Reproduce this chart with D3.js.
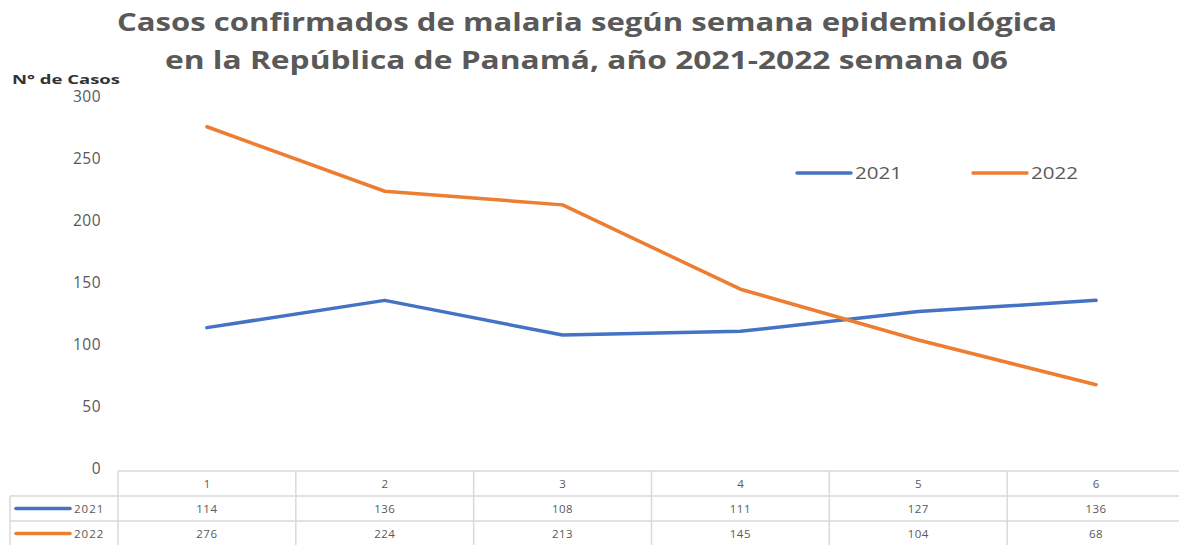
<!DOCTYPE html>
<html>
<head>
<meta charset="utf-8">
<script src="https://cdn.jsdelivr.net/npm/d3@7"></script>
<style>
  body { margin: 0; background: #fff; }
  text { font-family: "Open Sans", "Noto Sans", sans-serif; }
</style>
</head>
<body>
<div class="lineChart"></div>
<script>
// data
var weeks = ["1", "2", "3", "4", "5", "6"];
var casos2021 = [114, 136, 108, 111, 127, 136];
var casos2022 = [276, 224, 213, 145, 104, 68];
var seriesNames = ["2021", "2022"];
var yTicks = [0, 50, 100, 150, 200, 250, 300];
var titleLines = ["Casos confirmados de malaria según semana epidemiológica",
                  "en la República de Panamá, año 2021-2022 semana 06"];

var colors = { "2021": "#4472C4", "2022": "#ED7D31" };
var grey = "#595959";

var width = 1179, height = 545;
var svg = d3.select(".lineChart").append("svg")
    .attr("width", width)
    .attr("height", height);

// title (stretched like the original)
var titleSpans = [[117, 1057, 31], [165, 1008, 69]];
titleLines.forEach(function(t, i) {
    svg.append("text")
        .attr("x", titleSpans[i][0])
        .attr("y", titleSpans[i][2])
        .attr("textLength", titleSpans[i][1] - titleSpans[i][0])
        .attr("lengthAdjust", "spacingAndGlyphs")
        .attr("font-size", 25)
        .attr("font-weight", "bold")
        .attr("fill", grey)
        .text(t);
});

svg.append("text")
    .attr("x", 12)
    .attr("y", 84)
    .attr("textLength", 108)
    .attr("lengthAdjust", "spacingAndGlyphs")
    .attr("font-size", 13)
    .attr("font-weight", "bold")
    .attr("fill", "#333")
    .text("N° de Casos");

// scales
var x = d3.scaleBand().domain(weeks).range([118, 1185]);
var y = d3.scaleLinear().domain([0, 300]).range([469, 97]);

// y axis
var yAxis = svg.append("g")
    .attr("transform", "translate(101,0)")
    .call(d3.axisLeft(y).tickValues(yTicks).tickSize(0).tickPadding(0));
yAxis.select(".domain").remove();
yAxis.selectAll("text")
    .attr("font-size", 15.5)
    .attr("letter-spacing", 0.5)
    .attr("fill", grey)
    .attr("font-family", "Open Sans, sans-serif");

// lines
var line = d3.line()
    .x(function(d, i) { return x(weeks[i]) + x.bandwidth() / 2; })
    .y(function(d) { return y(d); });

[casos2021, casos2022].forEach(function(vals, i) {
    svg.append("path")
        .attr("fill", "none")
        .attr("stroke", colors[seriesNames[i]])
        .attr("stroke-width", 3.5)
        .attr("stroke-linejoin", "round")
        .attr("stroke-linecap", "round")
        .attr("d", line(vals));
});

// legend
var legendPos = [797, 973];
seriesNames.forEach(function(n, i) {
    var g = svg.append("g").attr("transform", "translate(" + legendPos[i] + ",173)");
    g.append("line")
        .attr("x1", 0).attr("x2", 54)
        .attr("stroke", colors[n]).attr("stroke-width", 3.5)
        .attr("stroke-linecap", "round");
    g.append("text")
        .attr("x", 58).attr("y", 6)
        .attr("textLength", 47)
        .attr("lengthAdjust", "spacingAndGlyphs")
        .attr("font-size", 17)
        .attr("fill", grey)
        .text(n);
});

// data table
var tableTop = 471, rowH = 25, leftX = 10;
var gridColor = "#d9d9d9";
var tbl = svg.append("g");

// header row borders
tbl.append("line").attr("x1", 118).attr("x2", width).attr("y1", tableTop).attr("y2", tableTop)
    .attr("stroke", gridColor).attr("stroke-width", 1.5);
[1, 2, 3].forEach(function(r) {
    tbl.append("line").attr("x1", leftX).attr("x2", width)
        .attr("y1", tableTop + r * rowH).attr("y2", tableTop + r * rowH)
        .attr("stroke", gridColor).attr("stroke-width", 1.5);
});
tbl.append("line").attr("x1", leftX).attr("x2", leftX)
    .attr("y1", tableTop + rowH).attr("y2", height)
    .attr("stroke", gridColor).attr("stroke-width", 1.5);
weeks.forEach(function(w) {
    tbl.append("line").attr("x1", x(w)).attr("x2", x(w))
        .attr("y1", tableTop).attr("y2", height)
        .attr("stroke", gridColor).attr("stroke-width", 1.5);
});

// header labels
tbl.selectAll(".hdr").data(weeks).enter().append("text")
    .attr("x", function(d) { return x(d) + x.bandwidth() / 2; })
    .attr("y", tableTop + 17)
    .attr("text-anchor", "middle")
    .attr("font-size", 11.5)
    .attr("fill", grey)
    .text(function(d) { return d; });

// series rows
[casos2021, casos2022].forEach(function(vals, i) {
    var rowY = tableTop + (i + 1) * rowH;
    var n = seriesNames[i];
    tbl.append("line")
        .attr("x1", 16).attr("x2", 70)
        .attr("y1", rowY + 12.5).attr("y2", rowY + 12.5)
        .attr("stroke", colors[n]).attr("stroke-width", 3.5)
        .attr("stroke-linecap", "round");
    tbl.append("text")
        .attr("x", 74).attr("y", rowY + 17)
        .attr("font-size", 11.5)
        .attr("letter-spacing", 1)
        .attr("fill", grey)
        .text(n);
    tbl.selectAll(".v" + i).data(vals).enter().append("text")
        .attr("x", function(d, j) { return x(weeks[j]) + x.bandwidth() / 2; })
        .attr("y", rowY + 17)
        .attr("text-anchor", "middle")
        .attr("font-size", 11.5)
        .attr("letter-spacing", 0.5)
        .attr("fill", grey)
        .text(function(d) { return d; });
});
</script>
</body>
</html>
